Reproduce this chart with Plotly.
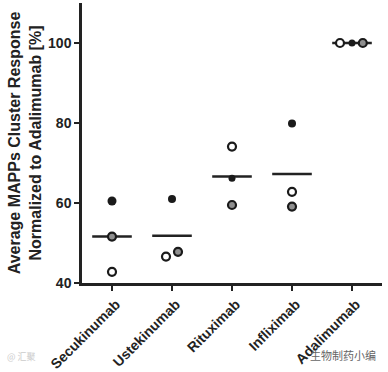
import numpy as np
import plotly.graph_objects as go

categories = ["Secukinumab", "Ustekinumab", "Rituximab", "Infliximab", "Adalimumab"]
donor_filled = [60.5, 61.0, 66.2, 79.9, 100.0]
donor_open = [42.8, 46.6, 74.1, 62.8, 100.0]
donor_gray = [51.6, 47.8, 59.5, 59.1, 100.0]
y_ticks = [40, 60, 80, 100]

# horizontal jitter (style/position), in category units
off_filled = [0, 0, 0, 0, 0]
off_open = [0, -0.1, 0, 0, -0.2]
off_gray = [0, 0.1, 0, 0, 0.18]
filled_sizes = [9, 8, 7, 8, 7]

xs = np.arange(len(categories))
means = np.mean([donor_filled, donor_open, donor_gray], axis=0)

fig = go.Figure()
half = 0.33
for i, m in enumerate(means):
    fig.add_trace(go.Scatter(x=[xs[i] - half, xs[i] + half], y=[m, m], mode="lines",
                             line=dict(color="#222", width=2.5), showlegend=False,
                             hoverinfo="skip"))

ink = "#1a1a1a"
fig.add_trace(go.Scatter(x=xs + np.array(off_open), y=donor_open, mode="markers",
                         marker=dict(size=8, color="white", opacity=1,
                                     line=dict(color=ink, width=2.2)),
                         showlegend=False, cliponaxis=False))
fig.add_trace(go.Scatter(x=xs + np.array(off_gray), y=donor_gray, mode="markers",
                         marker=dict(size=8, color="#8f8f8f", opacity=1,
                                     line=dict(color=ink, width=2.2)),
                         showlegend=False, cliponaxis=False))
fig.add_trace(go.Scatter(x=xs + np.array(off_filled), y=donor_filled, mode="markers",
                         marker=dict(size=filled_sizes, color=ink, opacity=1,
                                     line=dict(width=0)),
                         showlegend=False, cliponaxis=False))

font_fam = "Liberation Sans, Arial, sans-serif"
fig.update_layout(
    width=388, height=372,
    margin=dict(l=82, r=6, t=3, b=89),
    paper_bgcolor="white", plot_bgcolor="white",
    font=dict(family=font_fam, color="#222", size=14),
    xaxis=dict(range=[-0.5, 4.5], tickmode="array", tickvals=list(xs),
               ticktext=["<b>%s</b>" % c for c in categories],
               tickangle=-45, ticks="outside", ticklen=5, tickwidth=2, tickcolor="#222",
               showline=True, linecolor="#222", linewidth=2.5, showgrid=False,
               zeroline=False, tickfont=dict(size=14), automargin=False,
               ticklabelshift=4),
    yaxis=dict(range=[40, 110], tickmode="array", tickvals=y_ticks,
               ticktext=["<b>%d</b>" % v for v in y_ticks],
               ticks="outside", ticklen=5, tickwidth=2, tickcolor="#222",
               showline=True, linecolor="#222", linewidth=2.5, showgrid=False,
               zeroline=False, tickfont=dict(size=14), automargin=False,
               title=dict(text="<b>Average MAPPs Cluster Response<br>Normalized to Adalimumab [%]</b>",
                          font=dict(size=16), standoff=3)),
)

fig.add_annotation(text="生物制药小编", xref="paper", yref="paper", x=0.987, y=-0.257,
                   xanchor="right", yanchor="middle", showarrow=False,
                   font=dict(family="Noto Sans CJK SC", size=11, color="#666"))
fig.add_annotation(text="@ 汇聚", xref="paper", yref="paper", x=-0.257, y=-0.264,
                   xanchor="left", yanchor="middle", showarrow=False,
                   font=dict(family="Noto Sans CJK SC", size=9, color="#ccc"))

fig.write_html("out.html", config={"displayModeBar": False},
               post_script="document.body.style.margin='0';document.body.style.overflow='hidden';")
